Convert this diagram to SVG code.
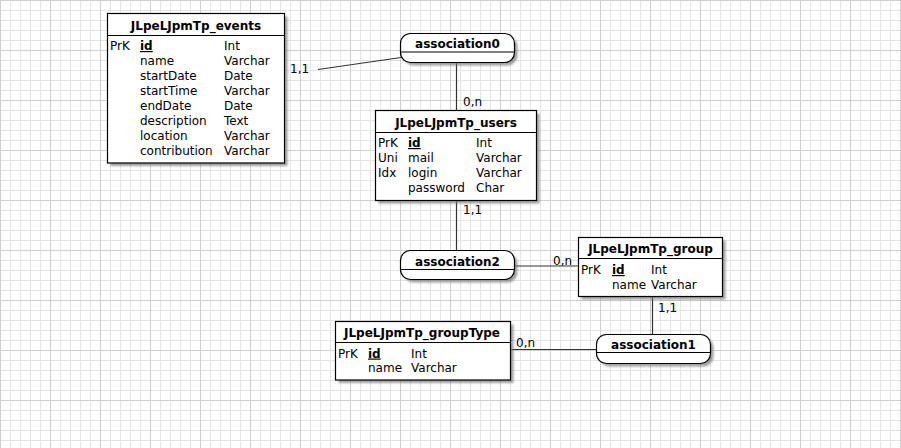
<svg xmlns="http://www.w3.org/2000/svg" width="901" height="448" viewBox="0 0 901 448">
<defs>
<pattern id="grid" width="10" height="10" patternUnits="userSpaceOnUse">
<path d="M0.5 0V10M0 0.5H10" stroke="#e4e4e4" stroke-width="1" fill="none"/>
</pattern>
<pattern id="grid5" width="50" height="50" patternUnits="userSpaceOnUse">
<path d="M0.5 0V50M0 0.5H50" stroke="#cfcfcf" stroke-width="1" fill="none"/>
</pattern>
<filter id="sh" x="-10%" y="-10%" width="130%" height="130%">
<feGaussianBlur stdDeviation="0.8"/>
</filter>
</defs>
<style>
text{font-family:"DejaVu Sans","Liberation Sans",sans-serif;font-size:12px;fill:#000}
.t{font-weight:bold;text-anchor:middle}
.k{font-weight:bold;text-decoration:underline}
.box{fill:#fff;stroke:#000;stroke-width:1.2}
.shadow{fill:#777;opacity:0.7;filter:url(#sh)}
.hl{stroke:#000;stroke-width:1}
.conn line{stroke:#333;stroke-width:1.2}
.lbl{fill:#fff}
</style>
<rect width="901" height="448" fill="#fff"/>
<rect width="901" height="448" fill="url(#grid)"/>
<rect width="901" height="448" fill="url(#grid5)"/>

<g id="connectors" class="conn">
<line x1="318" y1="69.5" x2="401" y2="57.5"/>
<line x1="456.5" y1="62" x2="456.5" y2="110.5"/>
<line x1="456.5" y1="200.5" x2="456.5" y2="250.5"/>
<line x1="514" y1="266" x2="578.5" y2="266"/>
<line x1="652.5" y1="296.5" x2="652.5" y2="334.5"/>
<line x1="510.5" y1="349.5" x2="596.5" y2="349.5"/>
<text x="290" y="73">1,1</text>
<text x="463" y="106">0,n</text>
<text x="463" y="214">1,1</text>
<text x="553" y="265">0,n</text>
<text x="658" y="312">1,1</text>
<text x="516" y="347">0,n</text>
</g>

<g id="events">
<rect class="shadow" x="110.5" y="16.5" width="177" height="149.5"/>
<rect class="box" x="107.5" y="13.5" width="177" height="149.5"/>
<line class="hl" x1="107.5" y1="35.5" x2="284.5" y2="35.5"/>
<text class="t" x="196" y="29.5">JLpeLJpmTp_events</text>
<text x="110" y="50">PrK</text>
<text class="k" x="140" y="50">id</text>
<text x="224" y="50">Int</text>
<text x="140" y="65">name</text><text x="224" y="65">Varchar</text>
<text x="140" y="80">startDate</text><text x="224" y="80">Date</text>
<text x="140" y="95">startTime</text><text x="224" y="95">Varchar</text>
<text x="140" y="110">endDate</text><text x="224" y="110">Date</text>
<text x="140" y="125">description</text><text x="224" y="125">Text</text>
<text x="140" y="140">location</text><text x="224" y="140">Varchar</text>
<text x="140" y="155">contribution</text><text x="224" y="155">Varchar</text>
</g>

<g id="users">
<rect class="shadow" x="378.5" y="113.5" width="161" height="90"/>
<rect class="box" x="375.5" y="110.5" width="161" height="90"/>
<line class="hl" x1="375.5" y1="132.5" x2="536.5" y2="132.5"/>
<text class="t" x="456" y="126.5">JLpeLJpmTp_users</text>
<text x="378" y="147">PrK</text><text class="k" x="408" y="147">id</text><text x="476" y="147">Int</text>
<text x="378" y="162">Uni</text><text x="408" y="162">mail</text><text x="476" y="162">Varchar</text>
<text x="378" y="177">Idx</text><text x="408" y="177">login</text><text x="476" y="177">Varchar</text>
<text x="408" y="192">password</text><text x="476" y="192">Char</text>
</g>

<g id="group">
<rect class="shadow" x="581.5" y="240.5" width="144" height="59"/>
<rect class="box" x="578.5" y="237.5" width="144" height="59"/>
<line class="hl" x1="578.5" y1="258.5" x2="722.5" y2="258.5"/>
<text class="t" x="650.5" y="253">JLpeLJpmTp_group</text>
<text x="581" y="274">PrK</text><text class="k" x="612" y="274">id</text><text x="651" y="274">Int</text>
<text x="612" y="289">name</text><text x="651" y="289">Varchar</text>
</g>

<g id="groupType">
<rect class="shadow" x="338.5" y="324.5" width="175" height="58.5"/>
<rect class="box" x="335.5" y="321.5" width="175" height="58.5"/>
<line class="hl" x1="335.5" y1="342.5" x2="510.5" y2="342.5"/>
<text class="t" x="422" y="337">JLpeLJpmTp_groupType</text>
<text x="338" y="357.5">PrK</text><text class="k" x="368" y="357.5">id</text><text x="411" y="357.5">Int</text>
<text x="368" y="372">name</text><text x="411" y="372">Varchar</text>
</g>

<g id="association0">
<rect class="shadow" x="403.5" y="36.5" width="114" height="29" rx="10"/>
<rect class="box" x="400.5" y="33.5" width="114" height="29" rx="10"/>
<line class="hl" x1="400.5" y1="52" x2="514.5" y2="52"/>
<text class="t" x="457.5" y="48">association0</text>
</g>

<g id="association2">
<rect class="shadow" x="403.5" y="253.5" width="114" height="29" rx="10"/>
<rect class="box" x="400.5" y="250.5" width="114" height="29" rx="10"/>
<line class="hl" x1="400.5" y1="269.5" x2="514.5" y2="269.5"/>
<text class="t" x="457.5" y="265.5">association2</text>
</g>

<g id="association1">
<rect class="shadow" x="599.5" y="337.5" width="114" height="29" rx="10"/>
<rect class="box" x="596.5" y="334.5" width="114" height="29" rx="10"/>
<line class="hl" x1="596.5" y1="352.5" x2="710.5" y2="352.5"/>
<text class="t" x="653.5" y="349">association1</text>
</g>
</svg>
